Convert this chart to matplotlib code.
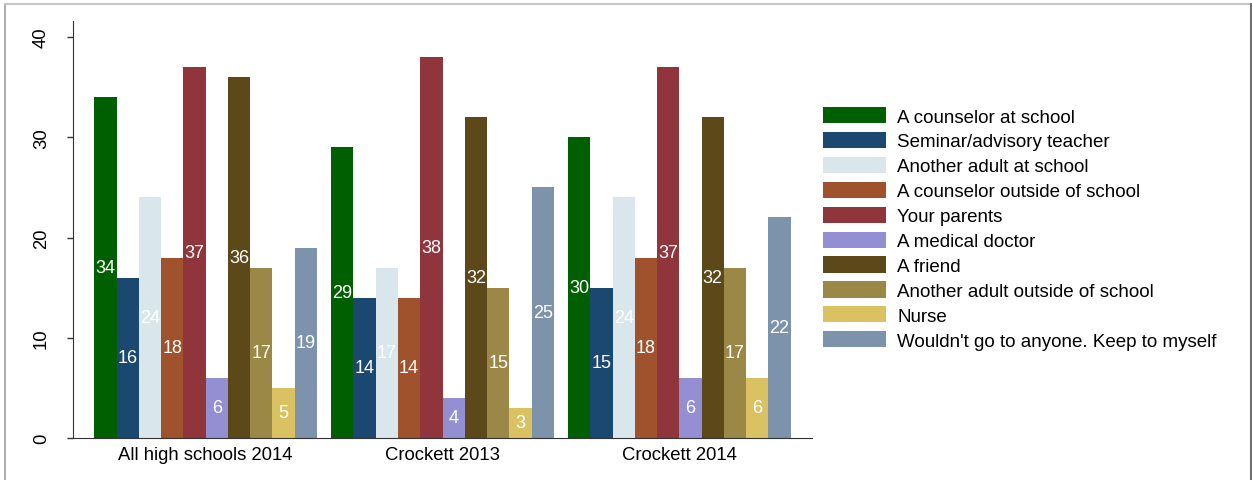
import numpy as np
import matplotlib
matplotlib.use('Agg')
import matplotlib.pyplot as plt
from matplotlib.lines import Line2D

plt.rcParams['font.family'] = ['Liberation Sans', 'DejaVu Sans']

groups = ['All high schools 2014', 'Crockett 2013', 'Crockett 2014']
categories = ['A counselor at school', 'Seminar/advisory teacher', 'Another adult at school',
              'A counselor outside of school', 'Your parents', 'A medical doctor', 'A friend',
              'Another adult outside of school', 'Nurse', "Wouldn't go to anyone. Keep to myself"]
counselor_school = [34, 29, 30]
seminar_teacher = [16, 14, 15]
adult_school = [24, 17, 24]
counselor_outside = [18, 14, 18]
parents = [37, 38, 37]
medical_doctor = [6, 4, 6]
friend = [36, 32, 32]
adult_outside = [17, 15, 17]
nurse = [5, 3, 6]
nobody = [19, 25, 22]
series = [counselor_school, seminar_teacher, adult_school, counselor_outside, parents,
          medical_doctor, friend, adult_outside, nurse, nobody]
colors = ['#005f00', '#1b4870', '#d9e6ec', '#a0522d', '#90353b',
          '#938fd2', '#5c4818', '#9c8846', '#dac263', '#7c93ab']

fig = plt.figure(figsize=(12.52, 4.81), dpi=100)
ax = fig.add_axes([73/1252, 42/481, (812-73)/1252, (439-22)/481])

x = np.arange(len(groups))
group_w = 0.94
w = group_w / len(series)
for k, (vals, c, lab) in enumerate(zip(series, colors, categories)):
    pos = x - group_w/2 + (k + 0.5)*w
    bars = ax.bar(pos, vals, w, color=c, label=lab, linewidth=0)
    ax.bar_label(bars, label_type='center', color='white', fontsize=13)

ax.set_xlim(-0.56, 2.56)
ax.set_ylim(0, 41.6)
ax.set_yticks([0, 10, 20, 30, 40])
ax.set_xticks(x)
ax.set_xticklabels(groups, fontsize=13.3)
ax.tick_params(axis='x', length=0, pad=6)
ax.tick_params(axis='y', length=4.5, width=1, pad=12, labelsize=13.3, color='#333333')
for t in ax.get_yticklabels():
    t.set_rotation(90)
    t.set_va('center')
ax.spines['right'].set_visible(False)
ax.spines['top'].set_visible(False)
ax.spines['left'].set_color('#333333')
ax.spines['bottom'].set_color('#333333')

handles, labels = ax.get_legend_handles_labels()
fig.legend(handles, labels, loc='upper left', bbox_to_anchor=(823/1252, 1 - 108/481),
           frameon=False, fontsize=13.5, handlelength=3.35, handleheight=0.95,
           handletextpad=0.6, labelspacing=0.34, borderpad=0, borderaxespad=0)

# outer frame (left, top, right)
fig.add_artist(Line2D([4.5/1252, 4.5/1252], [0, 1 - 4.5/481], color='#a0a0a0', lw=1.2))
fig.add_artist(Line2D([4.5/1252, 1251/1252], [1 - 4.5/481, 1 - 4.5/481], color='#c4c4c4', lw=1.5))
fig.add_artist(Line2D([1250.5/1252, 1250.5/1252], [0, 1 - 4.5/481], color='#707070', lw=1.5))

fig.savefig('out.png', dpi=100)
